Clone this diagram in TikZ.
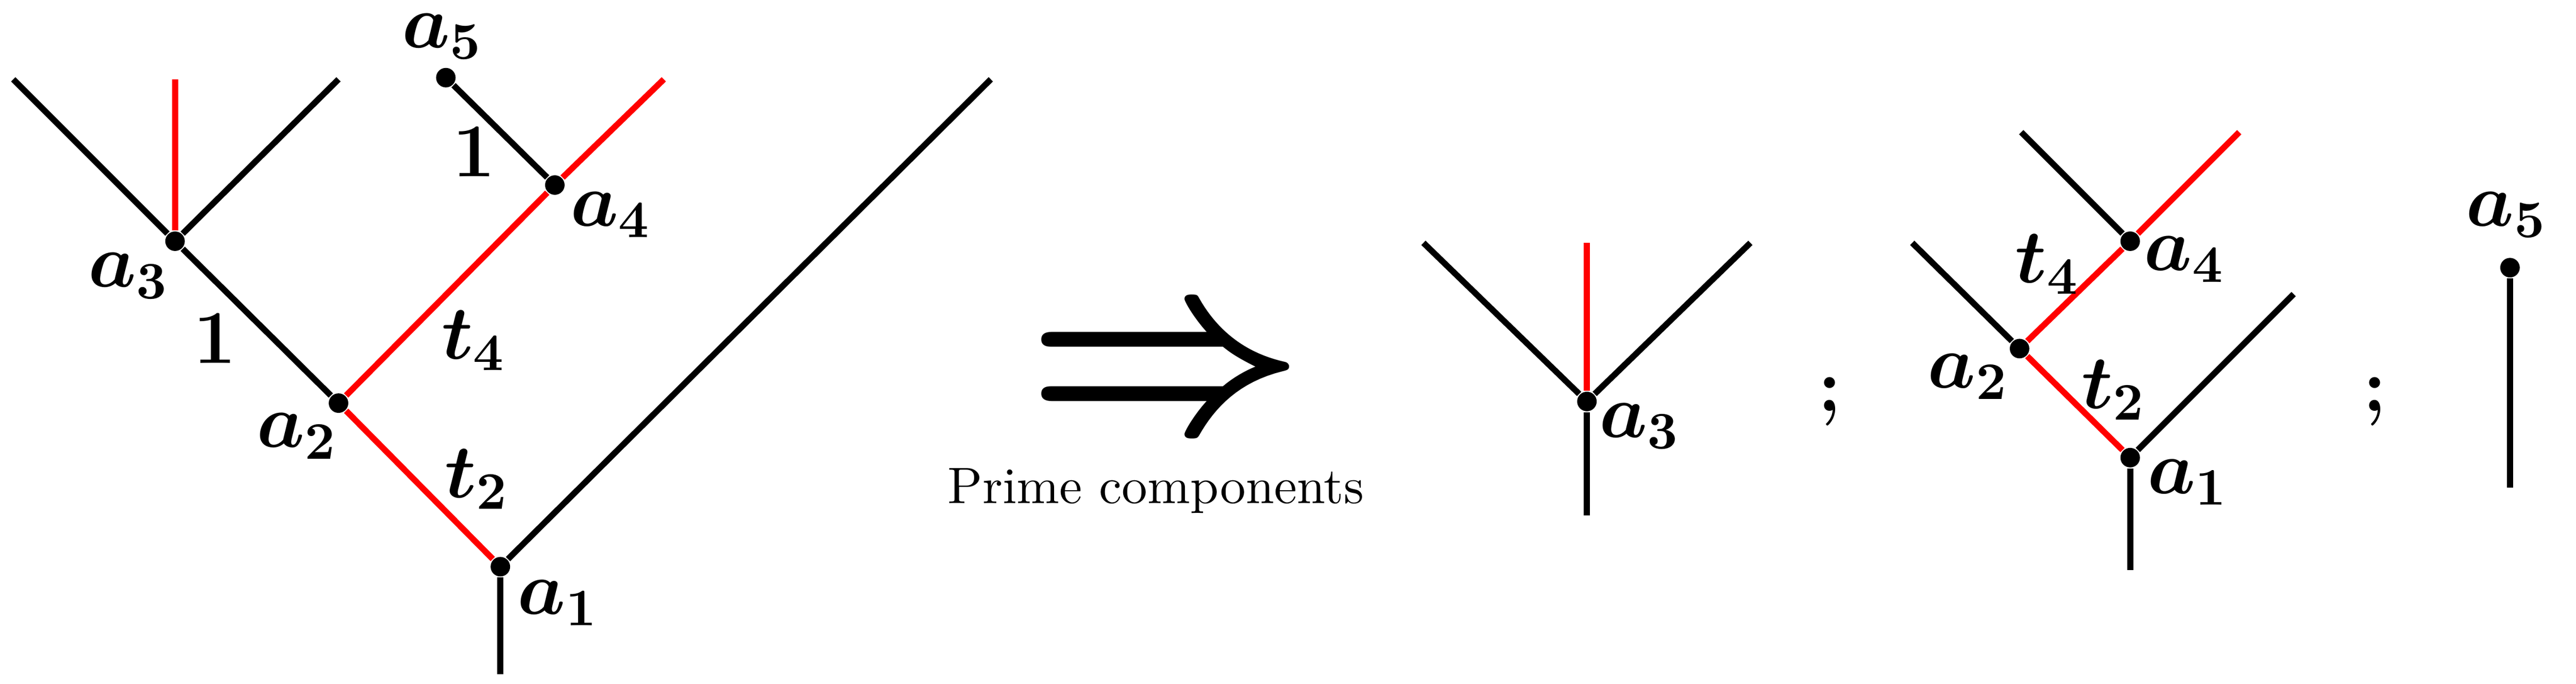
\documentclass[tikz,border=0pt]{standalone}
\usepackage{amsmath}
\usepackage{bm}
\usepackage{tikz}
\usetikzlibrary{shapes, arrows}
\tikzset{
	vtx/.style={circle, fill=black, inner sep=0pt, minimum size=1.3mm},
	edge/.style={line width=1.15pt, black},
	redge/.style={line width=1.15pt, red},
	lbl/.style={font=\Large, inner sep=0pt}
}
\begin{document}
\begin{tikzpicture}[x=0.11mm, y=0.11mm]
		\useasboundingbox (0,0) rectangle (1560,414);
		% big tree
		\node at (303,71) [vtx] (A1) {};
		\node at (205,170) [vtx] (A2) {};
		\node at (106,268) [vtx] (A3) {};
		\node at (336,302) [vtx] (A4) {};
		\node at (270,367) [vtx] (A5) {};
		\coordinate (root) at (303,6);
		\coordinate (leafR) at (600,366);
		\coordinate (leafA) at (8,366);
		\coordinate (leafB) at (106,366);
		\coordinate (leafC) at (205,366);
		\coordinate (leafD) at (402,366);
		\draw[edge] (A1) -- (root);
		\draw[edge] (A1) -- (leafR);
		\draw[redge] (A1) -- (A2);
		\draw[edge] (A2) -- (A3);
		\draw[edge] (A3) -- (leafA);
		\draw[redge] (A3) -- (leafB);
		\draw[edge] (A3) -- (leafC);
		\draw[redge] (A2) -- (A4);
		\draw[redge] (A4) -- (leafD);
		\draw[edge] (A4) -- (A5);
		\node at (268,392) [lbl] (la5) {$\bm{a_5}$};
		\node at (370,284) [lbl] (la4) {$\bm{a_4}$};
		\node at (78,247) [lbl] (la3) {$\bm{a_3}$};
		\node at (180,150) [lbl] (la2) {$\bm{a_2}$};
		\node at (338,49) [lbl] (la1) {$\bm{a_1}$};
		\node at (287,208) [lbl] (lt4) {$\bm{t_4}$};
		\node at (289,124) [lbl] (lt2) {$\bm{t_2}$};
		\node at (130,209) [lbl] (lone) {$\bm{1}$};
		\node at (287,322) [lbl] (ltwo) {$\bm{1}$};
		% arrow
		\node at (706,184) (arr) {\scalebox{4.6}{$\bm{\Rightarrow}$}};
		\node at (700,117) (prime) {\scalebox{0.97}{Prime components}};
		% component of a3
		\node at (961,171) [vtx] (B3) {};
		\coordinate (rootB) at (961,102);
		\coordinate (leafBa) at (862,267);
		\coordinate (leafBb) at (961,267);
		\coordinate (leafBc) at (1060,267);
		\draw[edge] (B3) -- (rootB);
		\draw[edge] (B3) -- (leafBa);
		\draw[redge] (B3) -- (leafBb);
		\draw[edge] (B3) -- (leafBc);
		\node at (993,156) [lbl] (lb3) {$\bm{a_3}$};
		\node at (1108,171) [lbl] (semi1) {$\bm{;}$};
		% component of a1
		\node at (1290,137) [vtx] (C1) {};
		\node at (1223,203) [vtx] (C2) {};
		\node at (1290,268) [vtx] (C4) {};
		\coordinate (rootC) at (1290,69);
		\coordinate (leafCr) at (1389,236);
		\coordinate (leafCl) at (1158,267);
		\coordinate (leafCa) at (1224,334);
		\coordinate (leafCb) at (1356,334);
		\draw[edge] (C1) -- (rootC);
		\draw[edge] (C1) -- (leafCr);
		\draw[redge] (C1) -- (C2);
		\draw[edge] (C2) -- (leafCl);
		\draw[redge] (C2) -- (C4);
		\draw[edge] (C4) -- (leafCa);
		\draw[redge] (C4) -- (leafCb);
		\node at (1323,257) [lbl] (lc4) {$\bm{a_4}$};
		\node at (1192,186) [lbl] (lc2) {$\bm{a_2}$};
		\node at (1240,254) [lbl] (lct4) {$\bm{t_4}$};
		\node at (1280,178) [lbl] (lct2) {$\bm{t_2}$};
		\node at (1325,122) [lbl] (lc1) {$\bm{a_1}$};
		\node at (1438,171) [lbl] (semi2) {$\bm{;}$};
		% component of a5
		\node at (1520,252) [vtx] (D5) {};
		\coordinate (rootD) at (1520,119);
		\draw[edge] (D5) -- (rootD);
		\node at (1518,284) [lbl] (ld5) {$\bm{a_5}$};
	\end{tikzpicture}
\end{document}
